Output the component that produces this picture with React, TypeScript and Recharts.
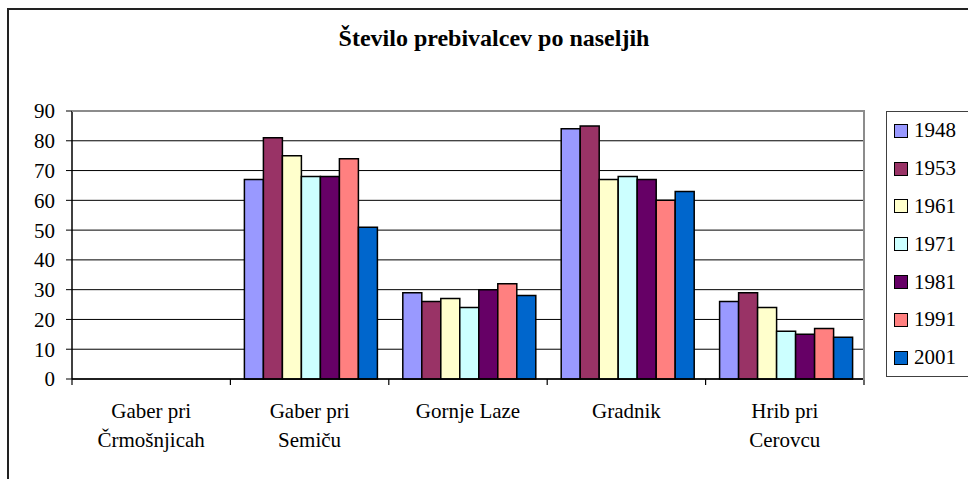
import React from "react";
import { BarChart, Bar, XAxis, YAxis, CartesianGrid, Legend } from "recharts";

const settlements = ["Gaber pri Črmošnjicah", "Gaber pri Semiču", "Gornje Laze", "Gradnik", "Hrib pri Cerovcu"];
const settlementLines = [["Gaber pri", "Črmošnjicah"], ["Gaber pri", "Semiču"], ["Gornje Laze"], ["Gradnik"], ["Hrib pri", "Cerovcu"]];
const years = ["1948", "1953", "1961", "1971", "1981", "1991", "2001"];
const yearColors = ["#9999FF", "#993366", "#FFFFCC", "#CCFFFF", "#660066", "#FF8080", "#0066CC"];

const v1948 = [null, 67, 29, 84, 26];
const v1953 = [null, 81, 26, 85, 29];
const v1961 = [null, 75, 27, 67, 24];
const v1971 = [null, 68, 24, 68, 16];
const v1981 = [null, 68, 30, 67, 15];
const v1991 = [null, 74, 32, 60, 17];
const v2001 = [null, 51, 28, 63, 14];
const yTicks = [0, 10, 20, 30, 40, 50, 60, 70, 80, 90];

const series = [v1948, v1953, v1961, v1971, v1981, v1991, v2001];
const data = settlements.map((name, i) => {
  const row: Record<string, any> = { name };
  years.forEach((y, j) => (row[y] = series[j][i]));
  return row;
});

const W = 968;
const H = 479;
const PLOT_LEFT = 72;
const PLOT_RIGHT = 864;
const PLOT_TOP = 111;
const PLOT_BOTTOM = 379;
const X_AXIS_H = 30;
const FONT = "Liberation Serif, DejaVu Serif, Times New Roman, serif";

const CategoryTick = (props: any) => {
  const { x, y, index } = props;
  const band = (PLOT_RIGHT - PLOT_LEFT) / settlements.length;
  const lines = settlementLines[index] || [];
  return (
    <g>
      <line x1={x - band / 2} x2={x - band / 2} y1={y} y2={y + 6} stroke="#000" strokeWidth={1.2} />
      {index === settlements.length - 1 && (
        <line x1={x + band / 2} x2={x + band / 2} y1={y} y2={y + 6} stroke="#000" strokeWidth={1.2} />
      )}
      {lines.map((t, i) => (
        <text key={i} x={x} y={y + 39 + i * 29} textAnchor="middle" style={{ fontFamily: FONT }} fontSize={21} fill="#000">
          {t}
        </text>
      ))}
    </g>
  );
};

const LegendBox = (props: any) => {
  const items = props.payload || [];
  return (
    <div style={{ border: "1.5px solid #404040", height: 266, boxSizing: "border-box", fontFamily: FONT, fontSize: 21 }}>
      {items.map((it: any) => (
        <div key={it.value} style={{ display: "flex", alignItems: "center", height: 37.8, paddingLeft: 7 }}>
          <span style={{ display: "inline-block", width: 12, height: 12, background: it.color, border: "1.5px solid #000", marginRight: 6 }} />
          <span>{it.value}</span>
        </div>
      ))}
    </div>
  );
};

export default function App() {
  return (
    <div style={{ position: "absolute", left: 0, top: 0, width: W, height: H, overflow: "hidden", background: "#fff", fontFamily: FONT }}>
      <div style={{ position: "absolute", left: 7, top: 8, width: W + 20, height: H + 20, borderLeft: "2px solid #222", borderTop: "2px solid #222" }} />
      <div style={{ position: "absolute", left: 10, width: W, top: 25, textAlign: "center", fontFamily: FONT, fontWeight: "bold", fontSize: 24 }}>
        Število prebivalcev po naseljih
      </div>
      <BarChart
        width={W}
        height={H}
        data={data}
        margin={{ top: PLOT_TOP, right: W - PLOT_RIGHT, bottom: H - PLOT_BOTTOM - X_AXIS_H, left: 0 }}
        barCategoryGap={14}
        barGap={0}
        style={{ fontFamily: FONT }}
      >
        <CartesianGrid vertical={false} stroke="#000" strokeWidth={1} />
        <XAxis
          dataKey="name"
          height={X_AXIS_H}
          interval={0}
          tickLine={false}
          tickSize={0}
          tickMargin={0}
          axisLine={{ stroke: "#000", strokeWidth: 1.5 }}
          tick={<CategoryTick />}
        />
        <YAxis
          width={PLOT_LEFT}
          domain={[0, 90]}
          ticks={yTicks}
          interval={0}
          tickSize={6}
          tickMargin={11}
          tickLine={{ stroke: "#000" }}
          axisLine={{ stroke: "#000", strokeWidth: 1.5 }}
          tick={{ fill: "#000", fontFamily: FONT, fontSize: 21 }}
        />
        <Legend
          layout="vertical"
          align="center"
          verticalAlign="middle"
          content={<LegendBox />}
          wrapperStyle={{ left: 886, top: 111, width: 84, height: 266 }}
        />
        {years.map((y, j) => (
          <Bar key={y} dataKey={y} name={y} fill={yearColors[j]} stroke="#000" strokeWidth={1.5} isAnimationActive={false} />
        ))}
      </BarChart>
      <div
        style={{
          position: "absolute",
          left: PLOT_LEFT,
          top: PLOT_TOP - 1,
          width: PLOT_RIGHT - PLOT_LEFT - 1,
          height: PLOT_BOTTOM - PLOT_TOP,
          borderTop: "2px solid #8c8c8c",
          borderRight: "2px solid #8c8c8c",
          pointerEvents: "none",
        }}
      />
    </div>
  );
}
